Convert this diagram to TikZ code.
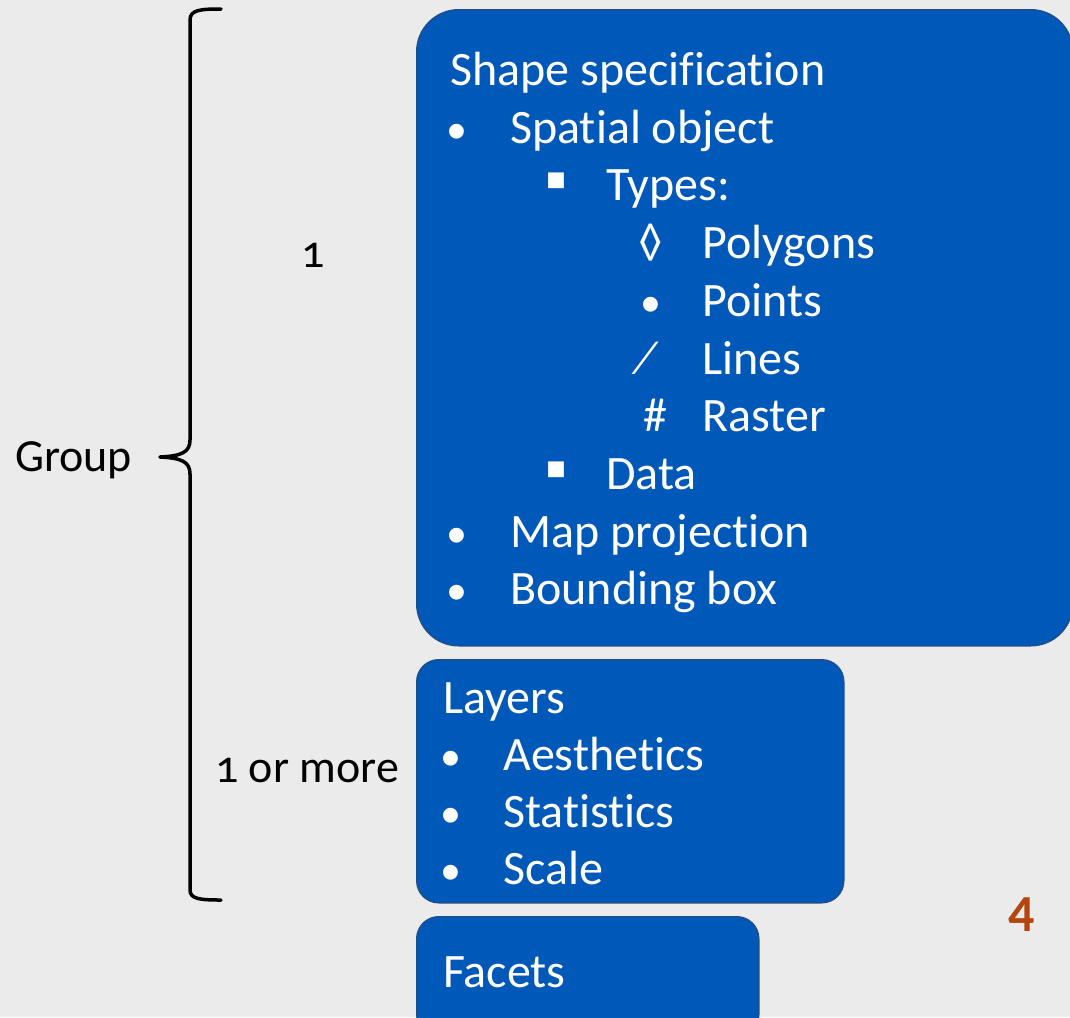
\documentclass[tikz,border=0pt]{standalone}
\usepackage{fontspec}
\setmainfont[Ligatures=NoCommon]{Carlito}
\newfontfamily\numfont[Numbers=OldStyle,Ligatures=NoCommon]{Carlito}
\definecolor{bgcol}{HTML}{EBEBEB}
\definecolor{boxblue}{HTML}{0058B8}
\definecolor{boxedge}{HTML}{1D4E8E}
\definecolor{pagenum}{HTML}{B4450E}
\begin{document}
\begin{tikzpicture}[x=1pt,y=-1pt,
  box/.style={draw=boxedge, line width=1.5pt, fill=boxblue, rounded corners=#1, anchor=north west, inner sep=0pt},
  box/.default=22pt,
  txt/.style={anchor=base west, inner sep=0pt, text=white, font=\fontsize{48}{58}\selectfont},
  sym/.style={anchor=base, inner sep=0pt, text=white, font=\fontsize{42}{58}\selectfont},
  sqr/.style={anchor=base, inner sep=0pt, text=white, font=\fontsize{62}{58}\selectfont},
  lbl/.style={anchor=base west, inner sep=0pt, font=\numfont\fontsize{46}{55}\selectfont},
  brace/.style={line width=3.5pt, line cap=round, line join=round}]
\useasboundingbox (0,0) rectangle (1070,1017);
\fill[bgcol] (0,0) rectangle (1070,1017);
% boxes
\node[box=42pt, minimum width=656pt, minimum height=636pt] (shapebox) at (416,9) {};
\node[box, minimum width=427pt, minimum height=243pt] (layerbox) at (416,659) {};
\node[box, minimum width=342pt, minimum height=120pt] (facetbox) at (416,916) {};
% shape specification text
\node[txt] (t1) at (450,85) {Shape specification};
\node[sym] (b2) at (457,143) {•};
\node[txt] (t2) at (510,143) {Spatial object};
\node[sqr] (b3) at (556,200) {▪};
\node[txt] (t3) at (606,200) {Types:};
\node[sym, font=\fontsize{48}{58}\selectfont] (b4) at (651,258) {◊};
\node[txt] (t4) at (702,258) {Polygons};
\node[sym] (b5) at (651,316) {•};
\node[txt] (t5) at (702,316) {Points};
\node[sym, font=\fontsize{48}{58}\selectfont] (b6) at (646,374) {⁄};
\node[txt] (t6) at (702,374) {Lines};
\node[sym, font=\fontsize{48}{58}\selectfont] (b7) at (655,431) {\#};
\node[txt] (t7) at (702,431) {Raster};
\node[sqr] (b8) at (556,489) {▪};
\node[txt] (t8) at (606,489) {Data};
\node[sym] (b9) at (457,547) {•};
\node[txt] (t9) at (510,547) {Map projection};
\node[sym] (b10) at (457,604) {•};
\node[txt] (t10) at (510,604) {Bounding box};
% layers
\node[txt] (l1) at (443,713) {Layers};
\node[sym] (lb2) at (451,770) {•};
\node[txt] (l2) at (503,770) {Aesthetics};
\node[sym] (lb3) at (451,827) {•};
\node[txt] (l3) at (503,827) {Statistics};
\node[sym] (lb4) at (451,884) {•};
\node[txt] (l4) at (503,884) {Scale};
% facets
\node[txt] (f1) at (443,987) {Facets};
% page number
\node[anchor=base west, inner sep=0pt, text=pagenum, font=\bfseries\fontsize{52}{60}\selectfont] (pnum) at (1008,931) {4};
% labels
\node[lbl] (group) at (15,471) {Group};
\node[lbl] (one) at (301,267) {1};
\node[lbl] (more) at (215,782) {1 or more};
% brace
\coordinate (btop) at (221,9);
\coordinate (btip) at (160,457);
\coordinate (bbot) at (221,900);
\draw[brace] (btop) .. controls (200,9) and (190,10) .. (190,20)
  -- (190,440) .. controls (190,452) and (182,456) .. (btip)
  .. controls (182,458) and (190,462) .. (190,474)
  -- (190,890) .. controls (190,899) and (200,900) .. (bbot);
\end{tikzpicture}
\end{document}
